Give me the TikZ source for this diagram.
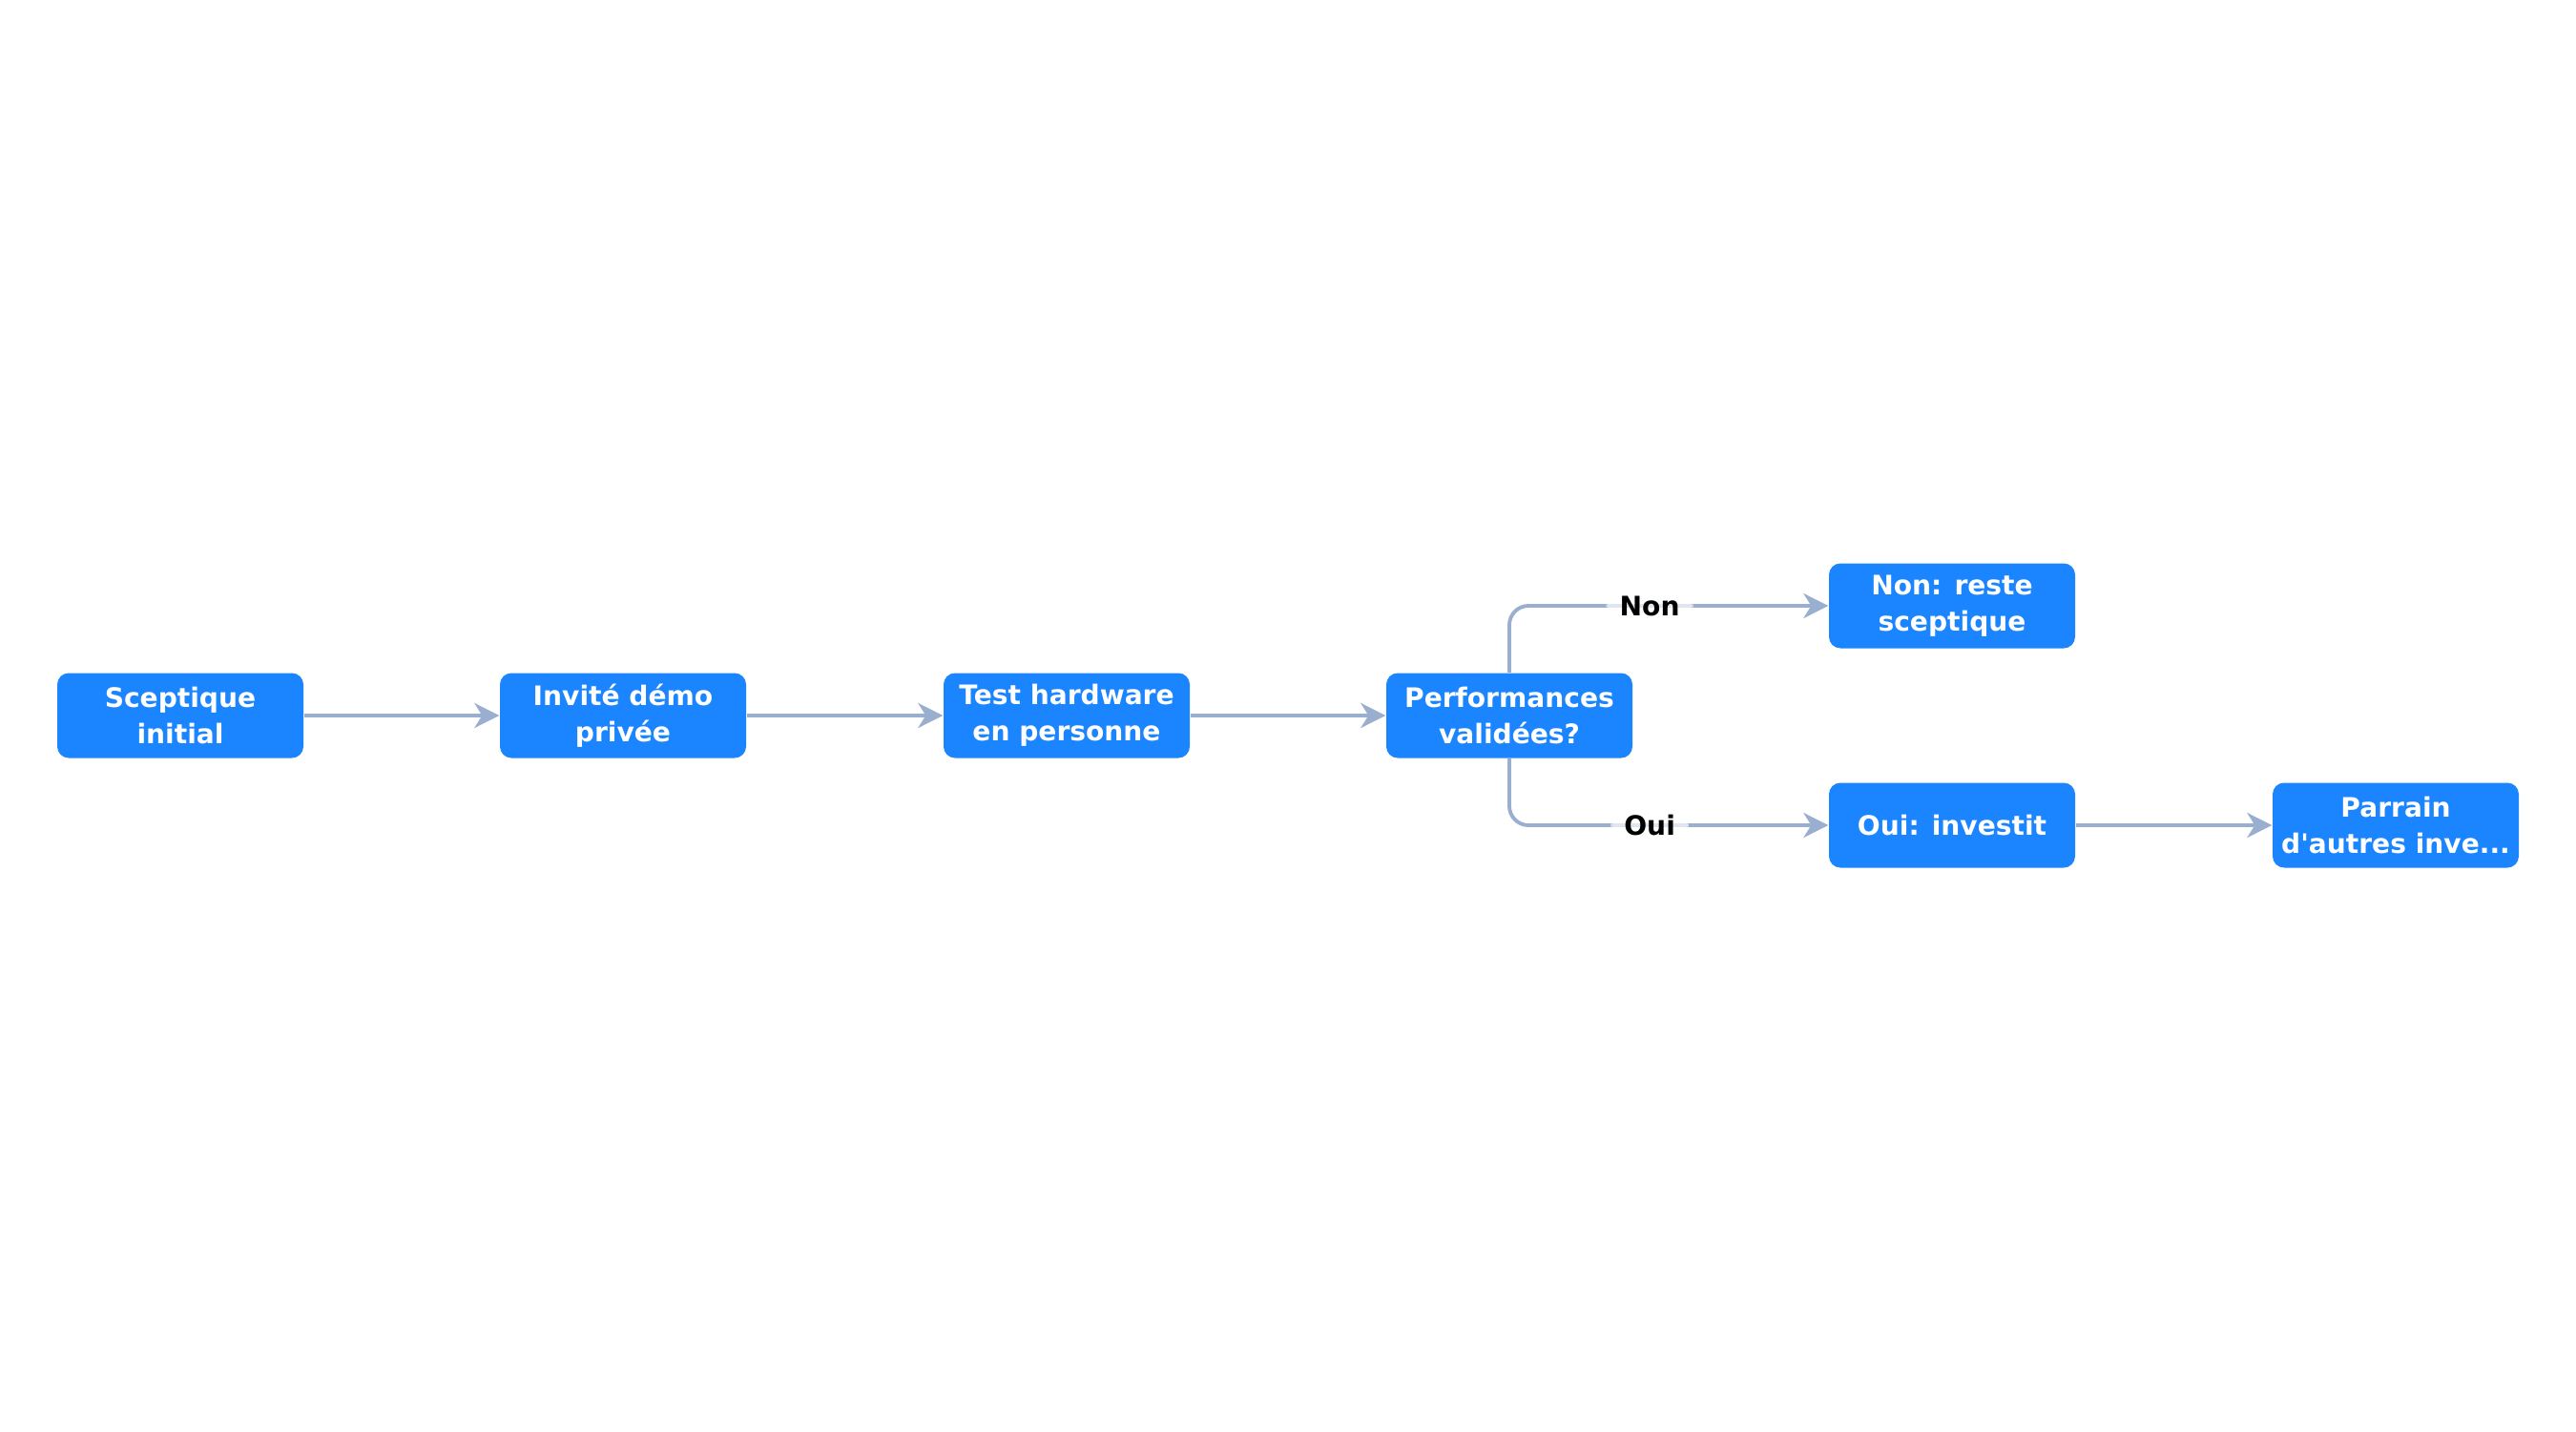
\documentclass[tikz,border=0pt]{standalone}
\usepackage{fontspec}
\setmainfont{DejaVu Sans}
\usepackage{tikz}
\usetikzlibrary{arrows.meta}
\definecolor{boxblue}{HTML}{1A85FF}
\definecolor{edgegray}{HTML}{9AAED0}
\tikzset{stepbox/.style={rectangle,rounded corners=0.12cm,fill=boxblue,text=white,
    minimum width=2.58cm,minimum height=0.89cm,inner sep=1pt,align=center,
    font=\fontsize{8}{10.8}\selectfont\bfseries}}
\tikzset{flow/.style={draw=edgegray,line width=1.1pt,-{Stealth[length=2.6mm,width=2.6mm,inset=0.8mm]}}}
\tikzset{choice/.style={fill=white,fill opacity=0.7,text opacity=1,inner xsep=4pt,inner ysep=1pt,
    font=\fontsize{8}{10.8}\selectfont\bfseries}}

\begin{document}
\begin{tikzpicture}
            \useasboundingbox (0,0) rectangle (27,15);
            % main row
            \node[stepbox] (scept) at (1.89,7.50) {Sceptique\\initial};
            \node[stepbox] (demo) at (6.53,7.50) {Invité démo\\privée};
            \node[stepbox] (test) at (11.18,7.50) {Test hardware\\en personne};
            \node[stepbox] (perf) at (15.82,7.50) {Performances\\validées?};
            % the two outcomes
            \node[stepbox] (non) at (20.46,8.65) {Non: reste\\sceptique};
            \node[stepbox] (oui) at (20.46,6.35) {Oui: investit};
            \node[stepbox] (parrain) at (25.11,6.35) {Parrain\\d\textquotesingle autres inve...};

            % arrows
            \draw[flow] (scept) -- (demo);
            \draw[flow] (demo) -- (test);
            \draw[flow] (test) -- (perf);
            \draw[flow,rounded corners=0.2cm] (perf.north) |- (non.west) node[choice,pos=0.72] {Non};
            \draw[flow,rounded corners=0.2cm] (perf.south) |- (oui.west) node[choice,pos=0.72] {Oui};
            \draw[flow] (oui) -- (parrain);
        \end{tikzpicture}
\end{document}
